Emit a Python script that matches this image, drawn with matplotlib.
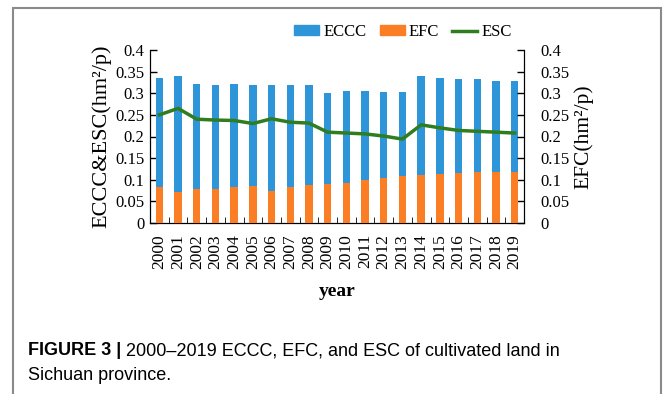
import matplotlib
matplotlib.use("Agg")
import matplotlib.pyplot as plt
import numpy as np
from matplotlib.patches import Patch, Rectangle
from matplotlib.lines import Line2D

years = [str(y) for y in range(2000, 2020)]
eccc = [0.335, 0.341, 0.322, 0.319, 0.322, 0.318, 0.319, 0.319, 0.319, 0.300,
        0.305, 0.305, 0.303, 0.303, 0.341, 0.336, 0.333, 0.332, 0.329, 0.328]
efc = [0.083, 0.071, 0.079, 0.079, 0.083, 0.086, 0.075, 0.083, 0.088, 0.090,
       0.093, 0.100, 0.103, 0.109, 0.110, 0.113, 0.116, 0.118, 0.118, 0.119]
esc = [0.250, 0.265, 0.240, 0.238, 0.237, 0.230, 0.241, 0.233, 0.231, 0.210,
       0.208, 0.206, 0.201, 0.194, 0.227, 0.220, 0.214, 0.212, 0.210, 0.208]
yticks = [0, 0.05, 0.1, 0.15, 0.2, 0.25, 0.3, 0.35, 0.4]

blue = "#2e95d8"
orange = "#fb7d24"
green = "#2e7d1e"
serif = "Liberation Serif"
sans = "Liberation Sans"

fig = plt.figure(figsize=(6.63, 3.94), dpi=100)
fig.patches.append(Rectangle((13 / 663, -0.1), 648 / 663, 1.1 - 8 / 394, transform=fig.transFigure,
                             fill=False, edgecolor="#8a8a8a", linewidth=1.5))

ax = fig.add_axes([150 / 663, (394 - 223) / 394, 374 / 663, 173 / 394])
ax2 = ax.twinx()
x = np.arange(len(years))

ax.bar(x, eccc, width=0.4, color=blue, zorder=2)
ax2.bar(x, efc, width=0.4, color=orange, zorder=3)
ax2.plot(x, esc, color=green, linewidth=2.5, zorder=4)

for a, pad in ((ax, 4), (ax2, 12)):
    a.set_ylim(0, 0.4)
    a.set_yticks(yticks)
    a.set_yticklabels(["%g" % t for t in yticks], fontfamily=serif, fontsize=12)
    a.spines["top"].set_visible(False)
    a.tick_params(axis="y", direction="in", length=5, width=1, pad=pad)
    a.set_xlim(-0.5, len(years) - 0.5)

ax.set_xticks(x)
ax.set_xticklabels(years, rotation=90, fontfamily=serif, fontsize=12.5)
ax.tick_params(axis="x", length=0, pad=8)
ax.set_xticks(np.arange(-0.5, len(years)), minor=True)
ax.tick_params(axis="x", which="minor", direction="in", length=4)

ax.set_ylabel("ECCC&ESC(hm\u00b2/p)", fontfamily=serif, fontsize=16, labelpad=3)
ax2.set_ylabel("EFC(hm\u00b2/p)", fontfamily=serif, fontsize=15.5, labelpad=3)
ax.set_xlabel("year", fontfamily=serif, fontsize=14, fontweight="bold", labelpad=10)

handles = [Patch(color=blue, label="ECCC"), Patch(color=orange, label="EFC"),
           Line2D([0], [0], color=green, linewidth=2.5, label="ESC")]
fig.legend(handles=handles, loc="center", bbox_to_anchor=(403 / 663, 1 - 32 / 394), ncol=3,
           frameon=False, prop={"family": serif, "size": 12}, handlelength=1.5,
           handleheight=0.55, handletextpad=0.25, columnspacing=0.8)

bold = fig.text(28 / 663, 1 - 355 / 394, "FIGURE 3 |", fontfamily=sans, fontsize=13,
                fontweight="bold", va="baseline")
fig.canvas.draw()
bb = bold.get_window_extent(fig.canvas.get_renderer())
fig.text(bb.x1 / fig.bbox.width + 5 / 663, 1 - 355 / 394,
         "2000\u20132019 ECCC, EFC, and ESC of cultivated land in",
         fontfamily=sans, fontsize=13, va="baseline")
fig.text(28 / 663, 1 - 380 / 394, "Sichuan province.", fontfamily=sans,
         fontsize=13, va="baseline")

fig.savefig("out.png", dpi=100)
